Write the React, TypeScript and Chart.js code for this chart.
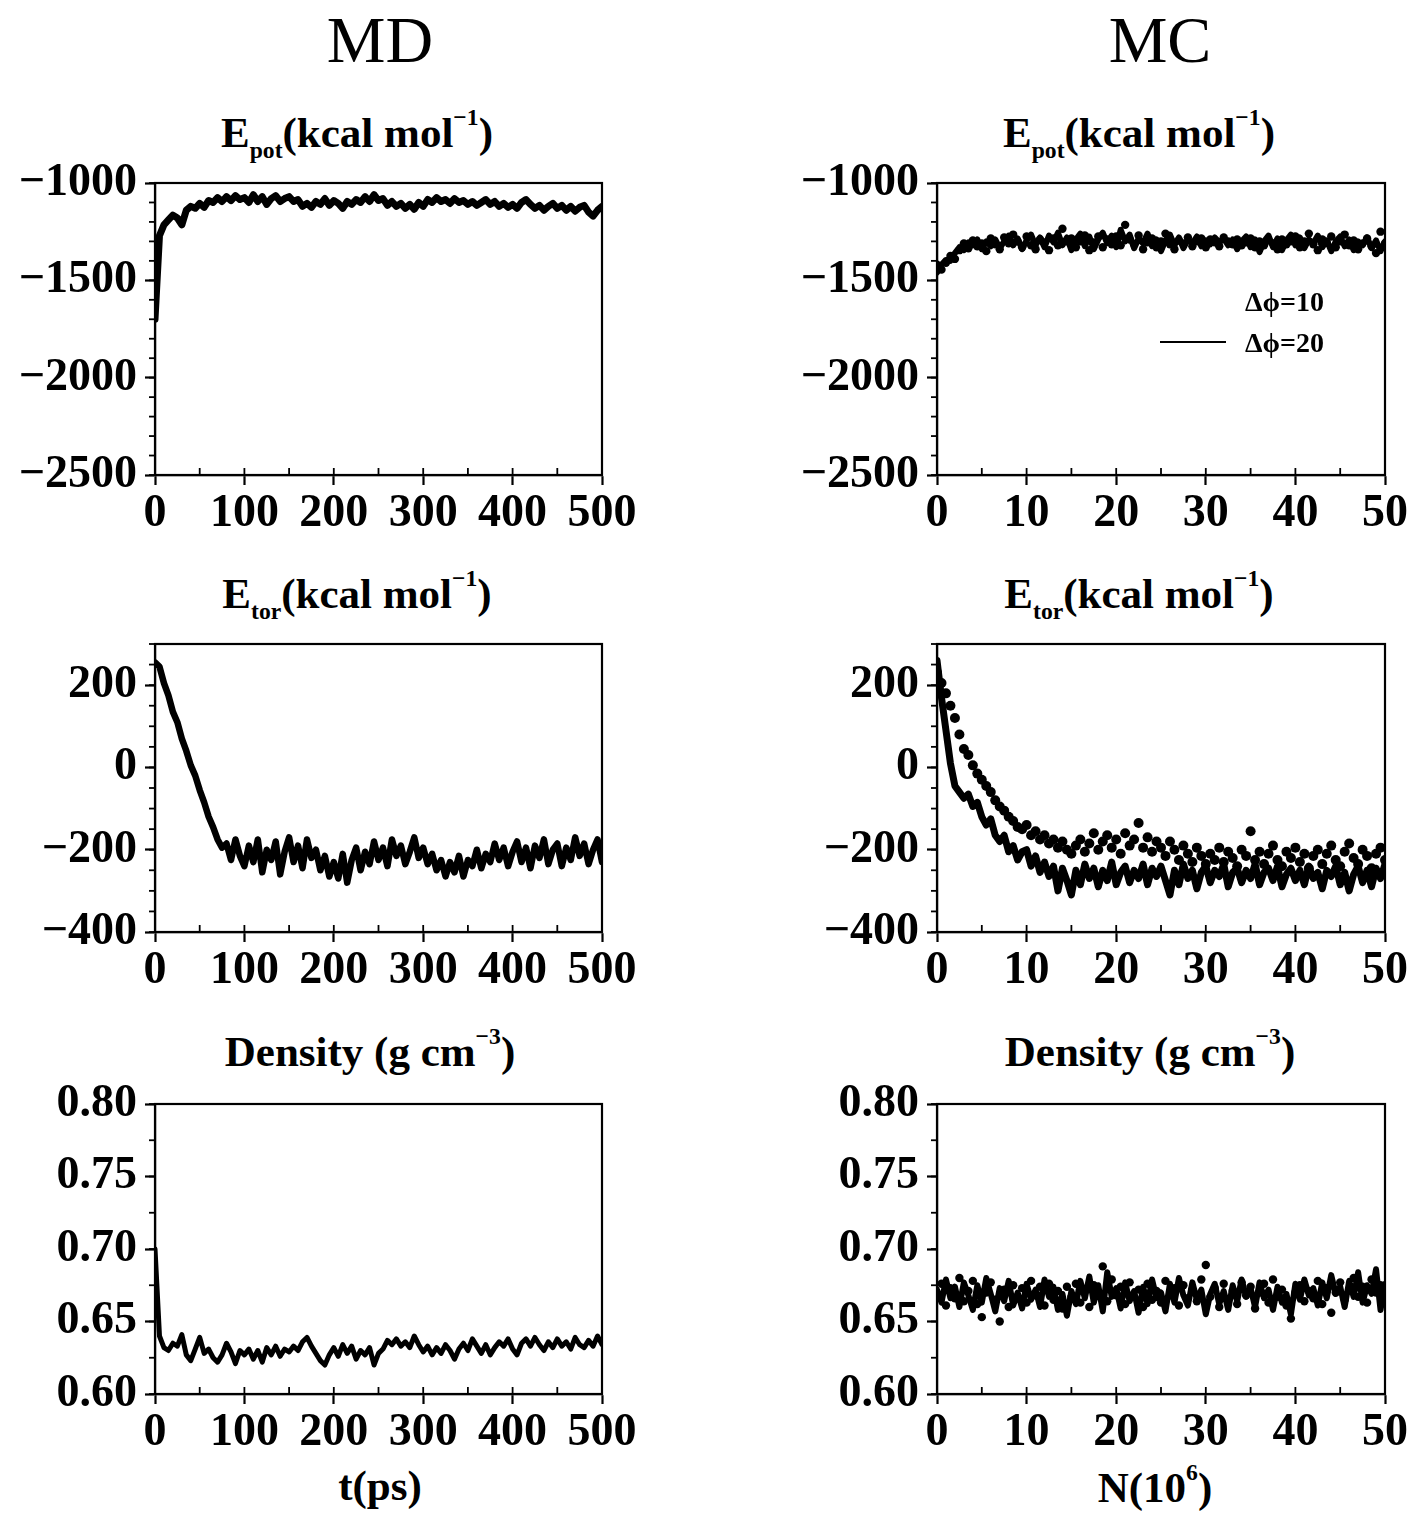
import React, { useEffect, useRef } from 'react';
import { Chart, registerables } from 'chart.js';

Chart.register(...registerables);

const FONT = "'Liberation Serif', 'Times New Roman', Times, serif";

// ---------------- data ----------------
// MD: t = 0..500 ps, one value every 5 ps
const MD_STEP = 5;
const MD_EPOT = [
  -1700, -1270, -1215, -1190, -1165, -1180, -1215, -1140, -1120, -1130,
  -1105, -1125, -1090, -1100, -1075, -1095, -1070, -1090, -1065, -1085,
  -1075, -1100, -1060, -1095, -1070, -1110, -1080, -1065, -1095, -1080,
  -1070, -1095, -1085, -1120, -1105, -1125, -1095, -1110, -1080, -1115,
  -1090, -1105, -1130, -1095, -1110, -1085, -1100, -1070, -1095, -1060,
  -1090, -1080, -1115, -1095, -1120, -1105, -1130, -1110, -1135, -1100,
  -1120, -1085, -1100, -1075, -1095, -1085, -1105, -1080, -1100, -1090,
  -1110, -1095, -1115, -1100, -1085, -1110, -1095, -1120, -1105, -1125,
  -1110, -1130, -1100, -1085, -1110, -1130, -1115, -1140, -1120, -1105,
  -1130, -1115, -1140, -1120, -1145, -1125, -1115, -1150, -1170, -1140,
  -1120,
];
const MD_ETOR = [
  255, 245, 205, 175, 135, 110, 70, 40, 5, -20,
  -55, -85, -120, -145, -175, -195, -185, -225, -175, -215,
  -240, -190, -230, -175, -255, -200, -225, -180, -260, -205,
  -170, -230, -190, -245, -175, -220, -200, -250, -215, -265,
  -230, -270, -210, -280, -225, -195, -250, -205, -235, -180,
  -225, -195, -240, -175, -215, -190, -235, -205, -170, -220,
  -195, -235, -210, -250, -225, -265, -230, -255, -215, -265,
  -225, -240, -200, -245, -210, -230, -185, -225, -195, -240,
  -205, -180, -230, -195, -245, -190, -220, -175, -235, -200,
  -185, -240, -195, -225, -170, -215, -185, -235, -200, -175,
  -230,
];
const MD_DENSITY = [
  0.700, 0.640, 0.632, 0.630, 0.635, 0.633, 0.641, 0.627, 0.623, 0.631,
  0.639, 0.628, 0.631, 0.625, 0.622, 0.627, 0.635, 0.629, 0.621, 0.630,
  0.627, 0.631, 0.624, 0.630, 0.622, 0.632, 0.627, 0.633, 0.626, 0.631,
  0.629, 0.633, 0.630, 0.636, 0.639, 0.633, 0.628, 0.623, 0.620, 0.627,
  0.632, 0.626, 0.634, 0.628, 0.633, 0.624, 0.630, 0.627, 0.632, 0.620,
  0.628, 0.631, 0.637, 0.634, 0.638, 0.633, 0.636, 0.632, 0.640, 0.634,
  0.629, 0.633, 0.627, 0.632, 0.628, 0.634, 0.630, 0.624, 0.631, 0.635,
  0.630, 0.638, 0.633, 0.628, 0.634, 0.627, 0.632, 0.636, 0.633, 0.638,
  0.631, 0.627, 0.635, 0.638, 0.633, 0.639, 0.634, 0.630, 0.636, 0.632,
  0.638, 0.633, 0.636, 0.631, 0.639, 0.634, 0.632, 0.637, 0.633, 0.640,
  0.634,
];

// MC: N = 0..50 (x10^6), one value every 0.5
const MC_STEP = 0.5;
const MC_SERIES_LABELS = ['\u0394\u03d5=10', '\u0394\u03d5=20'];
const MC_EPOT_D10 = [
  -1420, -1445, -1410, -1375, -1390, -1345, -1310, -1335, -1295, -1325,
  -1310, -1350, -1285, -1315, -1340, -1280, -1310, -1265, -1300, -1330,
  -1275, -1320, -1340, -1290, -1305, -1345, -1285, -1320, -1235, -1300,
  -1285, -1330, -1300, -1270, -1345, -1305, -1275, -1330, -1290, -1315,
  -1275, -1320, -1215, -1290, -1315, -1270, -1340, -1305, -1285, -1330,
  -1300, -1260, -1315, -1340, -1295, -1310, -1280, -1325, -1300, -1285,
  -1330, -1290, -1305, -1325, -1280, -1300, -1315, -1290, -1320, -1305,
  -1285, -1330, -1300, -1320, -1295, -1310, -1340, -1290, -1315, -1300,
  -1275, -1330, -1300, -1260, -1315, -1345, -1290, -1305, -1275, -1330,
  -1300, -1265, -1320, -1295, -1340, -1310, -1285, -1325, -1360, -1250,
  -1310,
];
const MC_EPOT_D20 = [
  -1460, -1420, -1395, -1400, -1360, -1330, -1345, -1305, -1320, -1290,
  -1340, -1300, -1325, -1290, -1335, -1300, -1270, -1320, -1285, -1340,
  -1295, -1265, -1320, -1280, -1330, -1270, -1305, -1255, -1320, -1280,
  -1345, -1290, -1260, -1325, -1275, -1340, -1290, -1255, -1310, -1270,
  -1330, -1240, -1300, -1265, -1335, -1285, -1310, -1260, -1325, -1290,
  -1350, -1295, -1265, -1320, -1280, -1335, -1290, -1310, -1275, -1325,
  -1295, -1315, -1280, -1305, -1285, -1320, -1290, -1340, -1300, -1275,
  -1330, -1290, -1355, -1300, -1270, -1330, -1285, -1345, -1295, -1265,
  -1320, -1280, -1335, -1290, -1310, -1270, -1330, -1295, -1350, -1300,
  -1275, -1325, -1290, -1345, -1300, -1320, -1280, -1335, -1295, -1350,
  -1300,
];
const MC_ETOR_D10 = [
  230, 205, 180, 150, 120, 80, 45, 30, 5, -15,
  -30, -45, -60, -80, -95, -105, -120, -130, -145, -150,
  -140, -165, -155, -175, -165, -185, -175, -195, -180, -200,
  -210, -190, -175, -205, -185, -160, -200, -180, -165, -195,
  -175, -210, -160, -190, -175, -135, -195, -170, -205, -180,
  -195, -215, -180, -200, -225, -190, -210, -230, -195, -215,
  -235, -210, -225, -195, -230, -205, -220, -240, -200, -215,
  -155, -225, -205, -235, -210, -190, -225, -240, -205, -220,
  -195, -230, -210, -245, -215, -200, -235, -210, -190, -225,
  -240, -205, -185, -220, -235, -200, -215, -245, -210, -195,
  -225,
];
const MC_ETOR_D20 = [
  260, 170, 90, 10, -45, -60, -75, -65, -95, -85,
  -120, -140, -125, -165, -180, -165, -205, -190, -225, -205,
  -200, -240, -215, -255, -230, -265, -240, -300, -245, -275,
  -310, -250, -285, -235, -270, -245, -290, -250, -275, -230,
  -285, -255, -240, -280, -250, -270, -235, -285, -245, -265,
  -240, -275, -310, -250, -285, -235, -270, -250, -295, -255,
  -240, -280, -250, -265, -235, -290, -255, -245, -280, -250,
  -270, -235, -285, -255, -245, -275, -240, -290, -260, -245,
  -275, -250, -285, -240, -270, -255, -295, -250, -265, -240,
  -285, -255, -300, -260, -240, -280, -250, -290, -245, -270,
  -235,
];
const MC_DENS_D10 = [
  0.668, 0.676, 0.661, 0.673, 0.666, 0.680, 0.664, 0.671, 0.678, 0.662,
  0.653, 0.670, 0.677, 0.665, 0.650, 0.672, 0.660, 0.675, 0.667, 0.673,
  0.663, 0.678, 0.668, 0.674, 0.661, 0.676, 0.665, 0.671, 0.659, 0.674,
  0.667, 0.676, 0.663, 0.672, 0.660, 0.675, 0.669, 0.688, 0.664, 0.679,
  0.668, 0.674, 0.662, 0.677, 0.667, 0.672, 0.660, 0.676, 0.665, 0.671,
  0.663, 0.678, 0.668, 0.673, 0.661, 0.675, 0.666, 0.672, 0.664, 0.679,
  0.689, 0.667, 0.673, 0.660, 0.676, 0.665, 0.671, 0.662, 0.677, 0.668,
  0.674, 0.659, 0.670, 0.676, 0.663, 0.679, 0.667, 0.672, 0.661, 0.652,
  0.670, 0.675, 0.664, 0.671, 0.666, 0.678, 0.662, 0.673, 0.656, 0.670,
  0.677, 0.665, 0.672, 0.680, 0.667, 0.674, 0.663, 0.679, 0.670, 0.675,
  0.668,
];
const MC_DENS_D20 = [
  0.672, 0.663, 0.679, 0.666, 0.674, 0.660, 0.677, 0.668, 0.658, 0.675,
  0.663, 0.680, 0.669, 0.657, 0.673, 0.664, 0.678, 0.661, 0.670, 0.659,
  0.676, 0.665, 0.672, 0.660, 0.679, 0.667, 0.674, 0.658, 0.669, 0.654,
  0.671, 0.662, 0.678, 0.666, 0.681, 0.663, 0.675, 0.657, 0.684, 0.667,
  0.673, 0.659, 0.677, 0.664, 0.671, 0.656, 0.674, 0.662, 0.679, 0.666,
  0.670, 0.657, 0.676, 0.663, 0.680, 0.668, 0.661, 0.677, 0.665, 0.672,
  0.655, 0.669, 0.676, 0.662, 0.671, 0.658, 0.675, 0.664, 0.679, 0.667,
  0.673, 0.660, 0.677, 0.666, 0.672, 0.658, 0.674, 0.663, 0.669, 0.655,
  0.676, 0.665, 0.679, 0.668, 0.673, 0.661, 0.677, 0.666, 0.682, 0.669,
  0.674, 0.660, 0.678, 0.667, 0.684, 0.663, 0.675, 0.669, 0.686, 0.658,
  0.676,
];

// ---------------- ticks ----------------
const MD_T_TICKS = [0, 100, 200, 300, 400, 500];
const MC_N_TICKS = [0, 10, 20, 30, 40, 50];
const EPOT_TICKS = [-2500, -2000, -1500, -1000];
const ETOR_TICKS = [-400, -200, 0, 200];
const DENS_TICKS = [0.6, 0.65, 0.7, 0.75, 0.8];
const DENS_TICK_LABELS = ['0.60', '0.65', '0.70', '0.75', '0.80'];

const fmtSigned = (v: number) => (v < 0 ? '\u2212' + Math.abs(v) : String(v));
const fmtDens = (v: number) => {
  const i = DENS_TICKS.findIndex((t) => Math.abs(t - v) < 1e-9);
  return i >= 0 ? DENS_TICK_LABELS[i] : '';
};

type Series = { label: string; values: number[]; step: number; dots?: boolean; width: number };
type Panel = {
  id: string;
  left: number; top: number; w: number; h: number;
  xMin: number; xMax: number; xTicks: number[]; xMinor: number;
  yMin: number; yMax: number; yTicks: number[]; yMinor: number;
  fmt: (v: number) => string;
  series: Series[];
};

const COL_L = [155, 937];
const COL_W = [447, 448];
const ROW_T = [183, 644, 1104];
const ROW_H = [292, 288, 290];

const PANELS: Panel[] = [
  {
    id: 'md-epot', left: COL_L[0], top: ROW_T[0], w: COL_W[0], h: ROW_H[0],
    xMin: 0, xMax: 500, xTicks: MD_T_TICKS, xMinor: 50,
    yMin: -2500, yMax: -1000, yTicks: EPOT_TICKS, yMinor: 100, fmt: fmtSigned,
    series: [{ label: 'MD', values: MD_EPOT, step: MD_STEP, width: 7 }],
  },
  {
    id: 'mc-epot', left: COL_L[1], top: ROW_T[0], w: COL_W[1], h: ROW_H[0],
    xMin: 0, xMax: 50, xTicks: MC_N_TICKS, xMinor: 5,
    yMin: -2500, yMax: -1000, yTicks: EPOT_TICKS, yMinor: 100, fmt: fmtSigned,
    series: [
      { label: MC_SERIES_LABELS[0], values: MC_EPOT_D10, step: MC_STEP, dots: true, width: 4.2 },
      { label: MC_SERIES_LABELS[1], values: MC_EPOT_D20, step: MC_STEP, width: 6 },
    ],
  },
  {
    id: 'md-etor', left: COL_L[0], top: ROW_T[1], w: COL_W[0], h: ROW_H[1],
    xMin: 0, xMax: 500, xTicks: MD_T_TICKS, xMinor: 50,
    yMin: -400, yMax: 300, yTicks: ETOR_TICKS, yMinor: 50, fmt: fmtSigned,
    series: [{ label: 'MD', values: MD_ETOR, step: MD_STEP, width: 6.5 }],
  },
  {
    id: 'mc-etor', left: COL_L[1], top: ROW_T[1], w: COL_W[1], h: ROW_H[1],
    xMin: 0, xMax: 50, xTicks: MC_N_TICKS, xMinor: 5,
    yMin: -400, yMax: 300, yTicks: ETOR_TICKS, yMinor: 50, fmt: fmtSigned,
    series: [
      { label: MC_SERIES_LABELS[0], values: MC_ETOR_D10, step: MC_STEP, dots: true, width: 5 },
      { label: MC_SERIES_LABELS[1], values: MC_ETOR_D20, step: MC_STEP, width: 7 },
    ],
  },
  {
    id: 'md-dens', left: COL_L[0], top: ROW_T[2], w: COL_W[0], h: ROW_H[2],
    xMin: 0, xMax: 500, xTicks: MD_T_TICKS, xMinor: 50,
    yMin: 0.6, yMax: 0.8, yTicks: DENS_TICKS, yMinor: 0.025, fmt: fmtDens,
    series: [{ label: 'MD', values: MD_DENSITY, step: MD_STEP, width: 5 }],
  },
  {
    id: 'mc-dens', left: COL_L[1], top: ROW_T[2], w: COL_W[1], h: ROW_H[2],
    xMin: 0, xMax: 50, xTicks: MC_N_TICKS, xMinor: 5,
    yMin: 0.6, yMax: 0.8, yTicks: DENS_TICKS, yMinor: 0.025, fmt: fmtDens,
    series: [
      { label: MC_SERIES_LABELS[0], values: MC_DENS_D10, step: MC_STEP, dots: true, width: 4.2 },
      { label: MC_SERIES_LABELS[1], values: MC_DENS_D20, step: MC_STEP, width: 6 },
    ],
  },
];

// ---------------- layout constants ----------------
const PAD_L = 150;
const PAD_T = 40;
const PAD_R = 45;
const PAD_B = 60;
const TICK_FONT = 46;

const framePlugin = {
  id: 'frame',
  afterDatasetsDraw(chart: any, _args: any, opts: any) {
    const { ctx, chartArea: a, scales } = chart;
    const xs = scales.x;
    const ys = scales.y;
    ctx.save();
    ctx.strokeStyle = '#000';
    ctx.lineWidth = 2.2;
    ctx.strokeRect(a.left, a.top, a.right - a.left, a.bottom - a.top);
    ctx.lineWidth = 1.8;
    for (let v = xs.min; v <= xs.max + 1e-9; v += opts.xMinor) {
      const px = xs.getPixelForValue(v);
      ctx.beginPath();
      ctx.moveTo(px, a.bottom);
      ctx.lineTo(px, a.bottom - 7);
      ctx.stroke();
    }
    for (let v = ys.min; v <= ys.max + 1e-9; v += opts.yMinor) {
      const py = ys.getPixelForValue(v);
      ctx.beginPath();
      ctx.moveTo(a.left - 6, py);
      ctx.lineTo(a.left, py);
      ctx.stroke();
    }
    ctx.restore();
  },
};

function ChartPanel({ p }: { p: Panel }) {
  const ref = useRef<HTMLCanvasElement>(null);
  const cw = PAD_L + p.w + PAD_R;
  const ch = PAD_T + p.h + PAD_B;
  useEffect(() => {
    if (!ref.current) return;
    const datasets = p.series.map((s) => ({
      label: s.label,
      data: s.values.map((v, i) => ({ x: i * s.step, y: v })),
      borderColor: '#000',
      backgroundColor: '#000',
      borderWidth: s.dots ? 0 : s.width,
      borderJoinStyle: 'round',
      borderCapStyle: 'round',
      showLine: !s.dots,
      pointRadius: s.dots ? s.width : 0,
      pointBackgroundColor: '#000',
      pointBorderWidth: 0,
      tension: 0,
      fill: false,
    }));
    const tickFont = { family: FONT, size: TICK_FONT, weight: 'bold' };
    const chart = new Chart(ref.current, {
      type: 'line',
      data: { datasets },
      plugins: [framePlugin],
      options: {
        animation: false,
        responsive: false,
        maintainAspectRatio: false,
        layout: { padding: { left: 0, top: PAD_T, right: PAD_R, bottom: 0 } },
        plugins: {
          legend: { display: false },
          tooltip: { enabled: false },
          frame: { xMinor: p.xMinor, yMinor: p.yMinor },
        } as any,
        scales: {
          x: {
            type: 'linear',
            min: p.xMin,
            max: p.xMax,
            afterBuildTicks: (s: any) => {
              s.ticks = p.xTicks.map((v) => ({ value: v }));
            },
            afterFit: (s: any) => {
              s.height = PAD_B;
            },
            ticks: {
              color: '#000',
              font: tickFont,
              padding: 2,
              maxRotation: 0,
              autoSkip: false,
              callback: (v: any) => String(v),
            },
            grid: { drawOnChartArea: false, tickLength: 10, tickWidth: 2.2, tickColor: '#000' },
            border: { color: '#000', width: 2.2 },
          },
          y: {
            type: 'linear',
            min: p.yMin,
            max: p.yMax,
            afterBuildTicks: (s: any) => {
              s.ticks = p.yTicks.map((v) => ({ value: v }));
            },
            afterFit: (s: any) => {
              s.width = PAD_L;
            },
            ticks: {
              color: '#000',
              font: tickFont,
              padding: 8,
              autoSkip: false,
              callback: (v: any) => p.fmt(Number(v)),
            },
            grid: { drawOnChartArea: false, tickLength: 10, tickWidth: 2.2, tickColor: '#000' },
            border: { color: '#000', width: 2.2 },
          },
        },
      } as any,
    });
    return () => chart.destroy();
  }, []);
  return (
    <canvas
      ref={ref}
      width={cw}
      height={ch}
      style={{ position: 'absolute', left: p.left - PAD_L, top: p.top - PAD_T, width: cw, height: ch }}
    />
  );
}

// ---------------- text helpers ----------------
const BASE = 0.8375; // baseline offset (em) for line-height 1 in Liberation Serif

function Text({ cx, baseline, size, bold, children }: any) {
  return (
    <div
      style={{
        position: 'absolute',
        left: cx - 300,
        width: 600,
        top: baseline - BASE * size,
        fontSize: size,
        lineHeight: size + 'px',
        height: size,
        textAlign: 'center',
        whiteSpace: 'nowrap',
        fontWeight: bold ? 'bold' : 'normal',
      }}
    >
      {children}
    </div>
  );
}
const Sub = ({ children }: any) => (
  <span style={{ fontSize: '0.55em', position: 'relative', top: '0.45em' }}>{children}</span>
);
const Sup = ({ children }: any) => (
  <span style={{ fontSize: '0.55em', position: 'relative', top: '-0.95em' }}>{children}</span>
);

const SUB_SIZE = 43;

export default function App() {
  return (
    <div
      style={{
        position: 'absolute',
        left: 0,
        top: 0,
        width: 1410,
        height: 1516,
        background: '#fff',
        color: '#000',
        fontFamily: FONT,
        overflow: 'hidden',
      }}
    >
      <Text cx={380} baseline={62} size={66}>MD</Text>
      <Text cx={1160} baseline={62} size={66}>MC</Text>

      <Text cx={357} baseline={147} size={SUB_SIZE} bold>
        E<Sub>pot</Sub>(kcal mol<Sup>{'\u2212'}1</Sup>)
      </Text>
      <Text cx={1139} baseline={147} size={SUB_SIZE} bold>
        E<Sub>pot</Sub>(kcal mol<Sup>{'\u2212'}1</Sup>)
      </Text>
      <Text cx={357} baseline={608} size={SUB_SIZE} bold>
        E<Sub>tor</Sub>(kcal mol<Sup>{'\u2212'}1</Sup>)
      </Text>
      <Text cx={1139} baseline={608} size={SUB_SIZE} bold>
        E<Sub>tor</Sub>(kcal mol<Sup>{'\u2212'}1</Sup>)
      </Text>
      <Text cx={370} baseline={1066} size={SUB_SIZE} bold>
        Density (g cm<Sup>{'\u2212'}3</Sup>)
      </Text>
      <Text cx={1150} baseline={1066} size={SUB_SIZE} bold>
        Density (g cm<Sup>{'\u2212'}3</Sup>)
      </Text>

      <Text cx={380} baseline={1500} size={SUB_SIZE} bold>t(ps)</Text>
      <Text cx={1155} baseline={1502} size={SUB_SIZE} bold>
        N(10<Sup>6</Sup>)
      </Text>

      {PANELS.map((p) => (
        <ChartPanel key={p.id} p={p} />
      ))}

      {/* legend of the MC panels */}
      <div
        style={{
          position: 'absolute',
          left: 1245,
          top: 311 - BASE * 28,
          fontSize: 28,
          lineHeight: '28px',
          fontWeight: 'bold',
          whiteSpace: 'nowrap',
        }}
      >
        {MC_SERIES_LABELS[0]}
      </div>
      <div
        style={{ position: 'absolute', left: 1160, top: 341, width: 66, height: 0, borderTop: '2px solid #000' }}
      />
      <div
        style={{
          position: 'absolute',
          left: 1245,
          top: 352 - BASE * 28,
          fontSize: 28,
          lineHeight: '28px',
          fontWeight: 'bold',
          whiteSpace: 'nowrap',
        }}
      >
        {MC_SERIES_LABELS[1]}
      </div>
    </div>
  );
}
